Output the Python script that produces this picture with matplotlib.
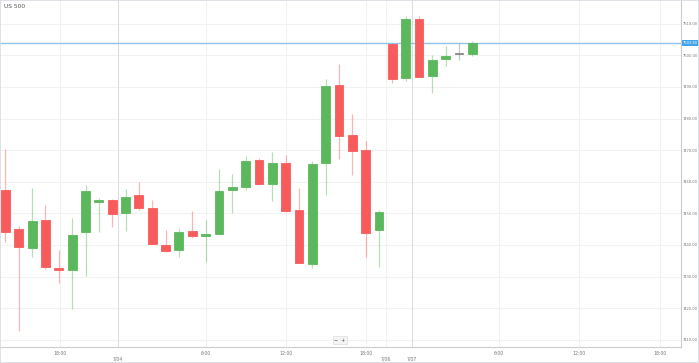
import matplotlib
matplotlib.use('Agg')
import matplotlib.pyplot as plt
import matplotlib.transforms as mtransforms
import numpy as np

# hourly candles
opens = [7457.4, 7445.0, 7439.0, 7447.9, 7432.8, 7432.0, 7444.1, 7453.6, 7454.2, 7450.1,
         7455.7, 7451.7, 7440.1, 7438.4, 7444.5, 7442.9, 7443.4, 7457.4, 7458.3, 7466.9,
         7459.2, 7465.8, 7451.1, 7433.9, 7465.8, 7490.7, 7474.7, 7469.9, 7444.6, 7503.5,
         7492.7, 7511.5, 7493.5, 7498.8, 7500.3, 7500.5]
closes = [7444.1, 7439.3, 7447.6, 7433.0, 7432.2, 7443.0, 7457.0, 7454.1, 7449.8, 7455.2,
          7451.8, 7440.3, 7438.2, 7444.1, 7442.7, 7443.4, 7457.1, 7458.2, 7466.6, 7459.2,
          7466.0, 7450.7, 7434.2, 7465.6, 7490.3, 7474.4, 7469.6, 7443.8, 7450.3, 7492.5,
          7511.5, 7493.2, 7498.6, 7499.9, 7500.3, 7503.8]
highs = [7470.3, 7446.0, 7458.1, 7452.7, 7438.5, 7448.5, 7459.0, 7454.7, 7454.4, 7457.7,
         7459.9, 7454.1, 7444.7, 7445.4, 7450.8, 7447.9, 7463.9, 7462.5, 7468.1, 7467.4,
         7469.5, 7468.4, 7458.1, 7466.6, 7492.5, 7497.2, 7481.3, 7472.8, 7451.0, 7503.8,
         7512.5, 7512.5, 7500.1, 7502.9, 7503.8, 7504.5]
lows = [7441.0, 7412.8, 7436.3, 7432.5, 7427.8, 7419.6, 7430.2, 7444.0, 7445.6, 7444.5,
        7451.1, 7440.3, 7437.7, 7436.3, 7442.2, 7434.7, 7443.4, 7450.0, 7457.3, 7459.2,
        7454.0, 7450.3, 7434.2, 7432.8, 7455.7, 7467.1, 7462.1, 7436.3, 7433.1, 7491.1,
        7491.9, 7493.2, 7488.0, 7496.6, 7498.5, 7499.7]
last_price = 7503.8

y_ticks = np.arange(7410, 7511, 10)
x_tick_pos = [4.1, 8.45, 15.0, 21.0, 27.0, 28.5, 30.5, 37.0, 43.0, 49.1]
x_tick_lab = ['18:00', '\n7/04', '6:00', '12:00', '18:00', '\n7/06', '\n7/07', '6:00', '12:00', '18:00']
date_ticks = [8.45, 30.5]

up_col = '#5cb85c'
dn_col = '#f75b5b'
flat_col = '#888888'

fig = plt.figure(figsize=(6.99, 3.63), dpi=100)
ax = fig.add_axes([0, 16 / 363, 681 / 699, 347 / 363])

o = np.array(opens)
c = np.array(closes)
x = np.arange(len(o))
cols = [up_col if cc > oo else (dn_col if cc < oo else flat_col) for oo, cc in zip(o, c)]

# wicks
ax.vlines(x, lows, highs, colors=cols, linewidth=0.9, alpha=0.45, zorder=3)
# bodies
bottoms = np.minimum(o, c)
heights = np.maximum(np.abs(c - o), 0.35)
ax.bar(x, heights, bottom=bottoms, width=0.66, color=cols, edgecolor=cols,
       linewidth=0.6, zorder=4)

# current price line
ax.axhline(last_price, color='#8fc4ea', linewidth=1.0, zorder=2)
ax.text(1.003, last_price, '%.2f' % last_price,
        transform=mtransforms.blended_transform_factory(ax.transAxes, ax.transData),
        ha='left', va='center', fontsize=2.6, color='white',
        bbox=dict(boxstyle='square,pad=0.3', fc='#3ea3e8', ec='none'), clip_on=False, zorder=6)

ax.set_xlim(-0.41, 50.64)
ax.set_ylim(7407.7, 7517.5)

ax.set_yticks(y_ticks)
ax.set_yticklabels(['%.2f' % v for v in y_ticks])
ax.yaxis.tick_right()
ax.set_xticks(x_tick_pos)
ax.set_xticklabels(x_tick_lab)
ax.tick_params(axis='both', length=0, labelcolor='#777777')
ax.tick_params(axis='y', pad=1.5, labelsize=2.6)
ax.tick_params(axis='x', pad=3, labelsize=3.3)

for yv in y_ticks:
    ax.axhline(yv, color='#f2f2f2', linewidth=0.8, zorder=0)
for xv in x_tick_pos:
    ax.axvline(xv, color='#dddddd' if xv in date_ticks else '#f2f2f2', linewidth=0.8, zorder=0)

for s in ['top', 'left']:
    ax.spines[s].set_visible(False)
for s in ['right', 'bottom']:
    ax.spines[s].set_color('#cccccc')
    ax.spines[s].set_linewidth(0.8)

fig.text(4 / 699, 1 - 7 / 363, 'US 500', fontsize=4.2, color='#555555', ha='left', va='center')
fig.text(340 / 699, 1 - 340 / 363, '\u2212  +', fontsize=3.5, color='#555555', ha='center', va='center',
         bbox=dict(boxstyle='square,pad=0.3', fc='#f4f4f4', ec='#dddddd', lw=0.5))

fig.patches.append(plt.Rectangle((0, 0), 1, 1, transform=fig.transFigure, fill=False,
                                 ec='#d8dde3', lw=1.2))

plt.savefig('out.png', dpi=100)
